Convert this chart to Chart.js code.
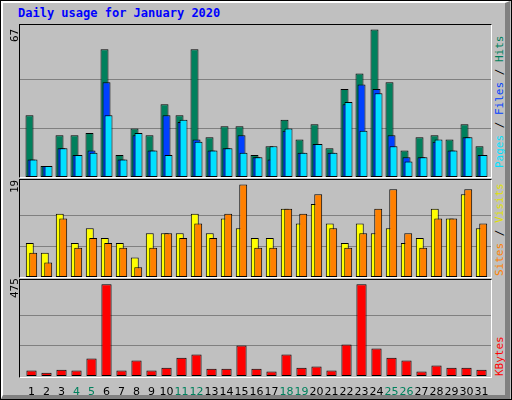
<!DOCTYPE html>
<html>
<head>
<meta charset="utf-8">
<script src="https://cdn.jsdelivr.net/npm/chart.js@4/dist/chart.umd.min.js"></script>
<style>
  body { margin: 0; width: 512px; height: 400px; overflow: hidden; background: #c0c0c0; }
  #frame { position: absolute; left: 0; top: 0; width: 510px; height: 398px; border: 1px solid #000; }
  #bevel { position: absolute; left: 1px; top: 1px; width: 502px; height: 392px;
           border-left: 2px solid #fff; border-top: 2px solid #fff;
           border-right: 5px solid #808080; border-bottom: 4px solid #808080; }
  #title { position: absolute; left: 18px; top: 6px; font: bold 12px "DejaVu Sans Mono", monospace; color: #0000ff; }
  .panel { position: absolute; left: 19px; width: 471px; border: 1px solid; border-color: #000 #fff #fff #000; }
  canvas { position: absolute; left: 20px; }
  .vlab { position: absolute; font: 11px "DejaVu Sans Mono", monospace; transform-origin: 0 0; transform: rotate(-90deg); white-space: nowrap; }
</style>
</head>
<body>
<div id="frame"></div>
<div id="bevel"></div>
<div id="title">Daily usage for January 2020</div>

<div class="panel" style="top:24px;height:152px"></div>
<div class="panel" style="top:179px;height:97px"></div>
<div class="panel" style="top:279px;height:97px"></div>

<canvas id="c1" style="top:25px" width="471" height="152"></canvas>
<canvas id="c2" style="top:180px" width="471" height="97"></canvas>
<canvas id="c3" style="top:280px" width="471" height="118"></canvas>

<div class="vlab" style="left:8px;top:42px">67</div>
<div class="vlab" style="left:8px;top:193px">19</div>
<div class="vlab" style="left:8px;top:298px">475</div>
<div class="vlab" style="left:493px;top:168px"><span style="color:#00e0ff">Pages</span> / <span style="color:#0040ff">Files</span> / <span style="color:#00805c">Hits</span></div>
<div class="vlab" style="left:493px;top:276px"><span style="color:#ff8000">Sites</span> / <span style="color:#e0e000">Visits</span></div>
<div class="vlab" style="left:493px;top:376px"><span style="color:#ff0000">KBytes</span></div>

<script>
// === DATA ===
const days = ['1','2','3','4','5','6','7','8','9','10','11','12','13','14','15','16',
              '17','18','19','20','21','22','23','24','25','26','27','28','29','30','31'];
const weekendDays = ['4','5','11','12','18','19','25','26'];

const hits  = [28,5,19,19,20,58,10,22,19,33,28,58,18,23,23,10,14,26,17,24,13,40,47,67,43,12,18,19,17,24,14];
const files = [8,5,13,10,12,43,8,19,12,28,25,17,12,13,19,9,8,21,11,15,11,33,42,40,19,9,9,16,12,18,10];
const pages = [8,5,13,10,11,28,8,20,12,10,26,16,12,13,11,9,14,22,11,15,11,34,21,38,14,7,9,17,12,18,10];

const visits = [7,5,13,7,10,8,7,4,9,9,9,13,9,12,10,8,8,14,11,15,11,7,11,9,10,7,8,14,12,17,10];
const sites  = [5,3,12,6,8,7,6,2,6,9,8,11,8,13,19,6,6,14,13,17,10,6,9,14,18,9,6,12,12,18,11];

const kbytes = [28,17,33,28,90,475,28,80,28,43,95,111,38,38,158,38,23,111,43,49,28,163,475,142,95,80,23,54,43,43,33];

// === PLUGINS ===
// grid lines across the whole panel width
function gridPlugin(values) {
  return {
    id: 'panelGrid',
    beforeDatasetsDraw(chart) {
      const c = chart.ctx, y = chart.scales.y;
      c.save();
      c.strokeStyle = '#808080';
      c.lineWidth = 1;
      values.forEach(v => {
        const py = Math.round(y.getPixelForValue(v)) + 0.5;
        c.beginPath(); c.moveTo(0, py); c.lineTo(chart.width, py); c.stroke();
      });
      c.restore();
    }
  };
}

// draw first dataset at the back, last one in front (webalizer style)
const drawOrder = {
  id: 'drawOrder',
  beforeDatasetDraw() { return false; },
  afterDatasetsDraw(chart) {
    for (let i = 0; i < chart.data.datasets.length; i++) {
      chart.getDatasetMeta(i).controller.draw();
    }
  }
};

function bars(label, data, color) {
  return { label, data, backgroundColor: color, borderColor: '#000', borderWidth: 1, borderSkipped: false };
}

function baseOptions(max, catPct, barPct, showX) {
  return {
    responsive: false,
    animation: false,
    layout: { padding: { left: 4, right: 2, top: 0, bottom: 0 } },
    plugins: { legend: { display: false }, tooltip: { enabled: false } },
    datasets: { bar: { categoryPercentage: catPct, barPercentage: barPct } },
    scales: {
      y: { display: false, min: 0, max: max },
      x: showX ? {
        grid: { display: false }, border: { display: false },
        ticks: {
          autoSkip: false, maxRotation: 0, padding: 2,
          font: { family: 'DejaVu Sans', size: 11 },
          color: ctx => weekendDays.includes(days[ctx.index]) ? '#00805c' : '#000'
        },
        afterFit(scale) { scale.height = 22; }
      } : { display: false }
    }
  };
}

// === CHARTS ===
new Chart(document.getElementById('c1'), {
  type: 'bar',
  data: { labels: days, datasets: [
    bars('Hits', hits, '#00805c'),
    bars('Files', files, '#0040ff'),
    bars('Pages', pages, '#00e0ff')
  ] },
  options: baseOptions(69, 0.4, 4, false),
  plugins: [gridPlugin([67 / 3, 134 / 3]), drawOrder]
});

new Chart(document.getElementById('c2'), {
  type: 'bar',
  data: { labels: days, datasets: [
    bars('Visits', visits, '#ffff00'),
    bars('Sites', sites, '#ff8000')
  ] },
  options: baseOptions(19.9, 0.46, 2.3, false),
  plugins: [gridPlugin([19 / 3, 38 / 3]), drawOrder]
});

new Chart(document.getElementById('c3'), {
  type: 'bar',
  data: { labels: days, datasets: [ bars('KBytes', kbytes, '#ff0000') ] },
  options: baseOptions(497, 0.68, 1, true),
  plugins: [gridPlugin([475 / 3, 950 / 3])]
});
</script>
</body>
</html>
